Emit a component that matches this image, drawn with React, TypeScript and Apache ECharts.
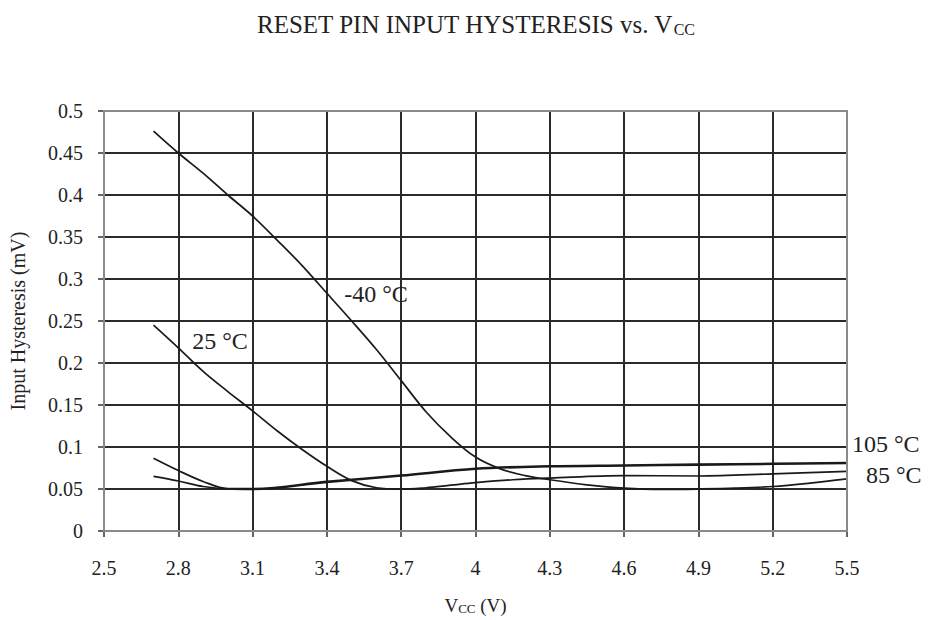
import React, { useEffect, useRef } from "react";
import * as echarts from "echarts";

const xTicks = [2.5, 2.8, 3.1, 3.4, 3.7, 4, 4.3, 4.6, 4.9, 5.2, 5.5];

const vccM40 = [2.7, 2.8, 2.9, 3.0, 3.1, 3.2, 3.3, 3.4, 3.5, 3.6, 3.7, 3.8, 3.9, 4.0, 4.1, 4.2, 4.3, 4.45, 4.6, 4.75, 4.9, 5.05, 5.2, 5.35, 5.5];
const hystM40 = [0.476, 0.45, 0.426, 0.4, 0.375, 0.346, 0.316, 0.283, 0.25, 0.216, 0.179, 0.142, 0.112, 0.088, 0.074, 0.066, 0.061, 0.055, 0.051, 0.0495, 0.05, 0.051, 0.053, 0.057, 0.062];

const vcc25 = [2.7, 2.8, 2.9, 3.0, 3.1, 3.2, 3.3, 3.4, 3.5, 3.6, 3.7, 3.8, 3.9, 4.0, 4.15, 4.3, 4.6, 4.9, 5.2, 5.5];
const hyst25 = [0.245, 0.218, 0.19, 0.166, 0.143, 0.119, 0.097, 0.077, 0.06, 0.0515, 0.0498, 0.0515, 0.0545, 0.0575, 0.061, 0.063, 0.066, 0.0655, 0.068, 0.071];

const vcc85 = [2.7, 2.8, 2.9, 3.0, 3.1, 3.4, 3.7, 4.0, 4.3, 4.6, 4.9, 5.2, 5.5];
const hyst85 = [0.065, 0.0595, 0.053, 0.05, 0.0495, 0.058, 0.0655, 0.0735, 0.0765, 0.0775, 0.0785, 0.0795, 0.0805];

const vcc105 = [2.7, 2.8, 2.9, 3.0, 3.1, 3.4, 3.7, 4.0, 4.3, 4.6, 4.9, 5.2, 5.5];
const hyst105 = [0.0866, 0.072, 0.059, 0.0505, 0.0505, 0.059, 0.0665, 0.0745, 0.0775, 0.0785, 0.0795, 0.0805, 0.0815];

// curve annotations (text, anchor in data units)
const labelNames = ["-40 °C", "25 °C", "85 °C", "105 °C"];
const labelVcc = [3.47, 2.856, 5.5, 5.5];
const labelHyst = [0.282, 0.226, 0.067, 0.104];

const FONT = "Liberation Serif";
const INK = "#222";

export default function App() {
  const ref = useRef<HTMLDivElement>(null);

  useEffect(() => {
    if (!ref.current) return;
    const chart = echarts.init(ref.current, null, { renderer: "svg" });

    const pairs = (xs: number[], ys: number[]) => xs.map((x, i) => [x, ys[i]]);
    const sets = [
      pairs(vccM40, hystM40),
      pairs(vcc25, hyst25),
      pairs(vcc85, hyst85),
      pairs(vcc105, hyst105),
    ];
    const labelDistance = [0, 0, 19, 5];

    const series = sets.map((data, i) => ({
      name: labelNames[i],
      type: "line",
      data,
      smooth: 0.35,
      showSymbol: false,
      lineStyle: { color: "#1a1a1a", width: 1.7 },
      z: 2,
      markPoint: {
        symbol: "circle",
        symbolSize: 0,
        silent: true,
        data: [{ coord: [labelVcc[i], labelHyst[i]] }],
        label: {
          show: true,
          position: "right",
          distance: labelDistance[i],
          formatter: labelNames[i],
          fontFamily: FONT,
          fontSize: 24,
          color: INK,
        },
      },
    }));

    chart.setOption({
      animation: false,
      backgroundColor: "#fff",
      title: {
        text: "RESET PIN INPUT HYSTERESIS vs. V{sub|CC}",
        left: 252,
        top: 6,
        textStyle: {
          fontFamily: FONT,
          fontSize: 25,
          fontWeight: "normal",
          color: INK,
          lineHeight: 26,
          rich: {
            sub: { fontFamily: FONT, fontSize: 16, color: INK, lineHeight: 12, verticalAlign: "bottom" },
          },
        },
      },
      grid: {
        left: 97,
        right: 87,
        top: 111,
        bottom: 85,
        show: true,
        borderColor: "#8a8a8a",
        borderWidth: 2,
        backgroundColor: "transparent",
        z: 3,
      },
      xAxis: {
        type: "value",
        min: 2.5,
        max: 5.5,
        name: "V{sub|CC} (V)",
        nameLocation: "middle",
        nameGap: 64,
        nameTextStyle: {
          fontFamily: FONT,
          fontSize: 19,
          color: INK,
          rich: { sub: { fontFamily: FONT, fontSize: 13, color: INK, lineHeight: 10, verticalAlign: "bottom" } },
          lineHeight: 20,
        },
        axisLine: { show: true, lineStyle: { color: "#555", width: 2 } },
        axisTick: { show: true, length: 6, customValues: xTicks, lineStyle: { color: "#333", width: 1.5 } },
        axisLabel: {
          customValues: xTicks,
          margin: 27,
          fontFamily: FONT,
          fontSize: 20,
          color: INK,
          formatter: (v: number) => String(Number(v.toFixed(1))),
        },
        splitLine: { show: true, lineStyle: { color: "#2a2a2a", width: 2 } },
      },
      yAxis: {
        type: "value",
        min: 0,
        max: 0.5,
        interval: 0.05,
        name: "Input Hysteresis (mV)",
        nameLocation: "middle",
        nameGap: 76,
        nameTextStyle: { fontFamily: FONT, fontSize: 20, color: INK },
        axisLine: { show: true, lineStyle: { color: "#8a8a8a", width: 2 } },
        axisTick: { show: true, length: 6, lineStyle: { color: "#333", width: 1.5 } },
        axisLabel: {
          margin: 21,
          fontFamily: FONT,
          fontSize: 20,
          color: INK,
          formatter: (v: number) => String(Number(v.toFixed(2))),
        },
        splitLine: { show: true, lineStyle: { color: "#2a2a2a", width: 2 } },
      },
      series,
    });

    return () => chart.dispose();
  }, []);

  return (
    <div
      ref={ref}
      style={{ position: "fixed", left: 0, top: 0, width: 934, height: 620, background: "#fff" }}
    />
  );
}
